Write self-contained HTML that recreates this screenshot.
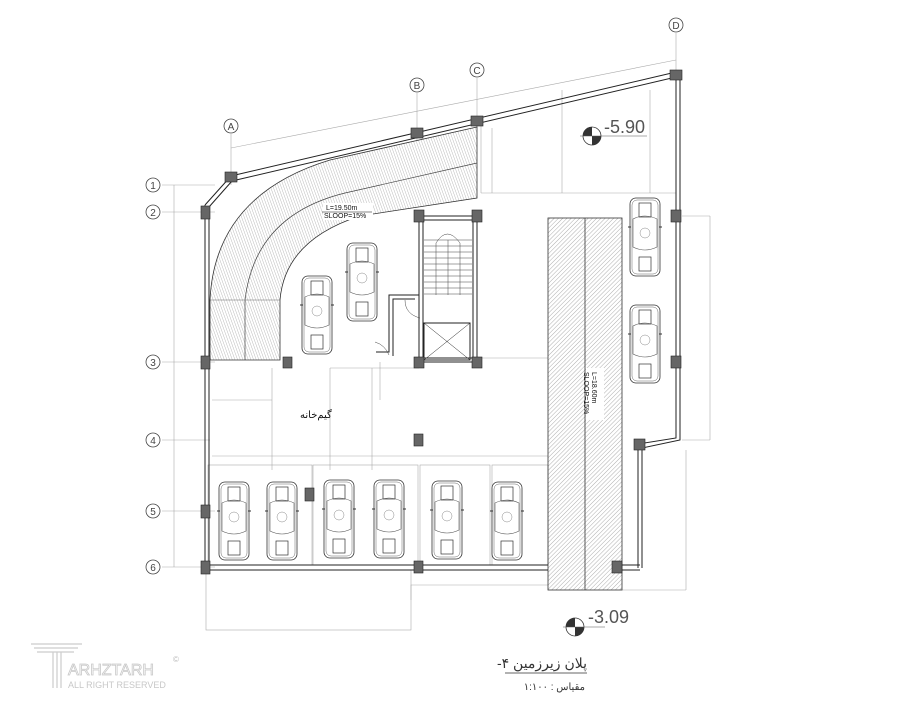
<!DOCTYPE html>
<html><head><meta charset="utf-8"><style>
html,body{margin:0;padding:0;background:#fff;width:900px;height:720px;overflow:hidden}
svg{display:block}
text{font-family:"Liberation Sans",sans-serif}
</style></head><body>
<svg width="900" height="720" viewBox="0 0 900 720" xmlns="http://www.w3.org/2000/svg">
<defs>
<pattern id="h1" width="3" height="3" patternUnits="userSpaceOnUse" patternTransform="rotate(45)"><line x1="0" y1="0" x2="0" y2="3" stroke="#777" stroke-width="0.6"/></pattern>
<pattern id="h2" width="2.5" height="2.5" patternUnits="userSpaceOnUse" patternTransform="rotate(-20)"><line x1="0" y1="0" x2="0" y2="2.5" stroke="#777" stroke-width="0.5"/></pattern>
<symbol id="car" viewBox="0 0 34 80" width="34" height="80">
<rect x="2" y="1" width="30" height="78" rx="6" fill="#fff" stroke="#333" stroke-width="0.8"/>
<rect x="4" y="3" width="26" height="74" rx="5" fill="none" stroke="#666" stroke-width="0.5"/>
<rect x="11" y="6" width="12" height="14" fill="none" stroke="#333" stroke-width="0.7"/>
<path d="M5 22 Q17 16 29 22 L29 50 Q17 56 5 50 Z" fill="none" stroke="#555" stroke-width="0.6"/>
<circle cx="17" cy="36" r="5" fill="none" stroke="#888" stroke-width="0.5"/>
<rect x="11" y="60" width="12" height="14" fill="none" stroke="#333" stroke-width="0.7"/>
<line x1="0" y1="30" x2="3" y2="30" stroke="#333"/><line x1="31" y1="30" x2="34" y2="30" stroke="#333"/>
</symbol>
</defs>

<g stroke="#aaa" stroke-width="0.6" fill="none">
<line x1="162" y1="185" x2="215" y2="185"/><line x1="162" y1="212" x2="215" y2="212"/>
<line x1="162" y1="362" x2="215" y2="362"/><line x1="162" y1="440" x2="210" y2="440"/>
<line x1="162" y1="511" x2="215" y2="511"/><line x1="162" y1="567" x2="215" y2="567"/>
<line x1="174" y1="185" x2="174" y2="567"/>
<line x1="231" y1="134" x2="231" y2="185"/><line x1="417" y1="93" x2="417" y2="140"/>
<line x1="477" y1="78" x2="477" y2="128"/><line x1="676" y1="33" x2="676" y2="80"/>
<line x1="231" y1="148" x2="676" y2="60"/>
<line x1="481" y1="193" x2="676" y2="193"/><line x1="481" y1="125" x2="481" y2="193"/>
<line x1="492" y1="128" x2="492" y2="193"/>
<line x1="562" y1="90" x2="562" y2="193"/><line x1="650" y1="90" x2="650" y2="193"/>
<line x1="682" y1="216" x2="710" y2="216"/><line x1="710" y1="216" x2="710" y2="440"/><line x1="682" y1="440" x2="710" y2="440"/>
<line x1="477" y1="358" x2="548" y2="358"/>
<line x1="212" y1="456" x2="548" y2="456"/>
<line x1="272" y1="368" x2="272" y2="470"/><line x1="330" y1="368" x2="330" y2="470"/><line x1="372" y1="368" x2="372" y2="470"/>
<line x1="212" y1="400" x2="272" y2="400"/>
<rect x="208" y="465" width="104" height="100"/><rect x="313" y="465" width="105" height="100"/>
<rect x="420" y="465" width="70" height="100"/><rect x="492" y="465" width="56" height="100"/>
<rect x="206" y="570" width="205" height="60"/>
<polyline points="411,600 411,585 548,585"/>
<line x1="622" y1="590" x2="686" y2="590"/><line x1="686" y1="450" x2="686" y2="590"/>
<line x1="380" y1="362" x2="380" y2="400"/><line x1="330" y1="368" x2="419" y2="368"/>
</g>

<g stroke="#444" stroke-width="0.8" fill="#fff">
<circle cx="153" cy="185" r="7"/><circle cx="153" cy="212" r="7"/><circle cx="153" cy="362" r="7"/>
<circle cx="153" cy="440" r="7"/><circle cx="153" cy="511" r="7"/><circle cx="153" cy="567" r="7"/>
<circle cx="231" cy="126" r="7"/><circle cx="417" cy="85" r="7"/><circle cx="477" cy="70" r="7"/><circle cx="676" cy="25" r="7"/>
</g>
<g fill="#444" font-size="10" text-anchor="middle" stroke="none">
<text x="153" y="189">1</text><text x="153" y="216">2</text><text x="153" y="366">3</text>
<text x="153" y="444">4</text><text x="153" y="515">5</text><text x="153" y="571">6</text>
<text x="231" y="130">A</text><text x="417" y="89">B</text><text x="477" y="74">C</text><text x="676" y="29">D</text>
</g>

<path d="M210,360 L210,300 Q215,195 330,160 L477,127 L477,198 L360,216 Q285,240 280,300 L280,360 Z" fill="url(#h2)" stroke="#333" stroke-width="0.8"/>
<path d="M245,360 L245,300 Q255,215 345,193 L477,163" fill="none" stroke="#444" stroke-width="0.7"/>
<line x1="210" y1="300" x2="280" y2="300" stroke="#666" stroke-width="0.5"/>
<rect x="323" y="203" width="50" height="17" fill="#fff"/>
<text x="326" y="210" font-size="7" fill="#111">L=19.50m</text>
<text x="324" y="218" font-size="7" fill="#111">SLOOP=15%</text>
<line x1="322" y1="212" x2="372" y2="212" stroke="#111" stroke-width="0.6"/>

<rect x="548" y="218" width="74" height="372" fill="url(#h1)" stroke="#333" stroke-width="0.8"/>
<line x1="585" y1="218" x2="585" y2="590" stroke="#333" stroke-width="0.8"/>
<rect x="586" y="368" width="18" height="52" fill="#fff"/>
<g transform="translate(592,372) rotate(90)"><text x="0" y="0" font-size="7" fill="#111">L=18.60m</text><text x="0" y="8" font-size="7" fill="#111">SLOOP=15%</text></g>

<g stroke="#222" stroke-width="1" fill="none">
<polyline points="205,205 231,176 676,72 680,72 680,440 642,448 642,568"/>
<polyline points="209,207 232,181 676,77 676,438 638,444 638,568"/>
<line x1="205" y1="205" x2="205" y2="570"/><line x1="209" y1="207" x2="209" y2="565"/>
<line x1="205" y1="565" x2="548" y2="565"/><line x1="205" y1="570" x2="548" y2="570"/>
<line x1="622" y1="565" x2="640" y2="565"/><line x1="622" y1="570" x2="640" y2="570"/>
<rect x="419" y="216" width="58" height="146"/><rect x="423" y="220" width="50" height="138"/>
<rect x="424" y="323" width="46" height="37"/>
<line x1="424" y1="323" x2="470" y2="360" stroke-width="0.5"/><line x1="470" y1="323" x2="424" y2="360" stroke-width="0.5"/>
<polyline points="419,295 389,295 389,352 376,352" /><polyline points="415,299 393,299 393,356"/>
</g>
<g stroke="#444" stroke-width="0.5">
<line x1="424" y1="240" x2="472" y2="240"/><line x1="424" y1="246" x2="472" y2="246"/><line x1="424" y1="252" x2="472" y2="252"/>
<line x1="424" y1="258" x2="472" y2="258"/><line x1="424" y1="264" x2="472" y2="264"/><line x1="424" y1="270" x2="472" y2="270"/>
<line x1="424" y1="276" x2="472" y2="276"/><line x1="424" y1="282" x2="472" y2="282"/><line x1="424" y1="288" x2="472" y2="288"/>
<line x1="424" y1="294" x2="472" y2="294"/>
<path d="M436,295 L436,243 Q447,225 460,243 L460,295" fill="none"/>
<line x1="448" y1="240" x2="448" y2="295"/>
<path d="M405,300 Q405,314 420,318" fill="none"/>
<path d="M375,342 Q385,345 389,355" fill="none"/>
</g>

<g fill="#666" stroke="#222" stroke-width="0.6">
<rect x="225" y="172" width="12" height="10"/><rect x="411" y="128" width="12" height="10"/>
<rect x="471" y="116" width="12" height="10"/><rect x="670" y="70" width="12" height="10"/>
<rect x="201" y="206" width="9" height="13"/><rect x="201" y="356" width="9" height="13"/>
<rect x="201" y="505" width="9" height="13"/><rect x="201" y="561" width="9" height="13"/>
<rect x="414" y="210" width="10" height="12"/><rect x="472" y="210" width="10" height="12"/>
<rect x="414" y="357" width="10" height="11"/><rect x="472" y="357" width="10" height="11"/>
<rect x="283" y="357" width="9" height="11"/><rect x="414" y="434" width="9" height="12"/>
<rect x="305" y="488" width="9" height="13"/><rect x="414" y="561" width="9" height="12"/>
<rect x="671" y="210" width="10" height="12"/><rect x="671" y="356" width="10" height="12"/>
<rect x="634" y="439" width="11" height="11"/><rect x="612" y="561" width="10" height="12"/>
</g>

<use href="#car" x="628" y="197"/><use href="#car" x="628" y="304"/>
<use href="#car" x="300" y="275"/><use href="#car" x="345" y="242"/>
<use href="#car" x="217" y="481"/><use href="#car" x="265" y="481"/>
<use href="#car" x="322" y="479"/><use href="#car" x="372" y="479"/>
<use href="#car" x="430" y="480"/><use href="#car" x="490" y="481"/>

<text x="300" y="418" font-size="10" fill="#111" font-family="'Liberation Sans','Noto Sans CJK SC',sans-serif">گیم‌خانه</text>

<g>
<circle cx="592" cy="136" r="9" fill="#fff" stroke="#333" stroke-width="0.8"/>
<path d="M592,136 L592,127 A9,9 0 0 0 583,136 Z M592,136 L601,136 A9,9 0 0 1 592,145 Z" fill="#333"/>
<line x1="580" y1="136" x2="647" y2="136" stroke="#555" stroke-width="0.6"/>
<text x="604" y="133" font-size="18" fill="#555">-5.90</text>
<circle cx="575" cy="627" r="9" fill="#fff" stroke="#333" stroke-width="0.8"/>
<path d="M575,627 L575,618 A9,9 0 0 0 566,627 Z M575,627 L584,627 A9,9 0 0 1 575,636 Z" fill="#333"/>
<line x1="563" y1="627" x2="605" y2="627" stroke="#555" stroke-width="0.6"/>
<text x="588" y="623" font-size="18" fill="#555">-3.09</text>
</g>

<text x="587" y="668" font-size="14" fill="#333" direction="rtl" text-anchor="start" font-family="'Liberation Sans','Noto Sans CJK SC',sans-serif">پلان زیرزمین ۴-</text>
<line x1="505" y1="673" x2="587" y2="673" stroke="#333" stroke-width="0.8"/>
<text x="585" y="690" font-size="10" fill="#333" direction="rtl" text-anchor="start" font-family="'Liberation Sans','Noto Sans CJK SC',sans-serif">مقیاس : ۱:۱۰۰</text>

<g stroke="#ccc" stroke-width="1.2" fill="none">
<line x1="31" y1="644" x2="82" y2="644"/><line x1="34" y1="648" x2="78" y2="648"/><line x1="37" y1="652" x2="74" y2="652"/>
<line x1="53" y1="652" x2="53" y2="688"/><line x1="57" y1="652" x2="57" y2="688"/><line x1="61" y1="652" x2="61" y2="688"/>
</g>
<text x="68" y="675" font-size="16" fill="none" stroke="#c8c8c8" stroke-width="0.8">ARHZTARH</text>
<text x="68" y="688" font-size="9" fill="#c8c8c8">ALL RIGHT RESERVED</text>
<text x="173" y="662" font-size="8" fill="#bbb">©</text>
</svg>
</body></html>
